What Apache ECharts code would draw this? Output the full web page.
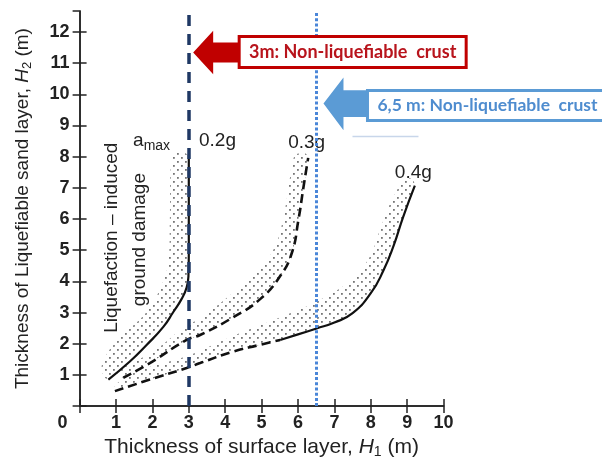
<!DOCTYPE html>
<html>
<head>
<meta charset="utf-8">
<script src="https://cdn.jsdelivr.net/npm/echarts@6/dist/echarts.min.js"></script>
<style>
  html, body { margin: 0; padding: 0; background: #fff; }
  #main { width: 602px; height: 464px; }
</style>
</head>
<body>
<div id="main"></div>
<script>
window.addEventListener('load', () => {
    main()
})

// curves, [H1, H2] in metres
const curve02g = [[0.79, 0.85], [1.38, 1.43], [1.84, 1.96], [2.30, 2.54], [2.57, 3.01], [2.80, 3.43], [2.94, 3.80], [2.99, 4.17], [3.0, 4.9], [3.0, 8.07]]
const band02g = [[0.6, 1.2], [0.79, 1.75], [1.2, 2.28], [1.84, 3.01], [2.21, 3.75], [2.44, 4.59], [2.48, 5.96], [2.53, 7.96], [2.75, 8.15], [3.0, 8.07]]

const curve03g = [[1.2, 0.91], [1.93, 1.38], [2.94, 2.12], [3.31, 2.28], [4.22, 2.85], [4.96, 3.43], [5.51, 4.17], [5.83, 4.91], [6.01, 5.96], [6.15, 7.02], [6.28, 7.96]]
const band03g = [[1.1, 1.15], [2.03, 1.75], [2.94, 2.59], [3.31, 2.8], [4.22, 3.64], [4.96, 4.38], [5.41, 5.22], [5.64, 6.28], [5.78, 7.33], [5.92, 8.05], [6.2, 8.1]]

const curve04gDashed = [[0.97, 0.48], [1.93, 0.85], [2.94, 1.22], [3.31, 1.38], [4.22, 1.75], [4.9, 1.95], [5.51, 2.12]]
const curve04gSolid = [[5.51, 2.12], [6.0, 2.3], [6.51, 2.49], [7.0, 2.68], [7.5, 2.98], [8.0, 3.62], [8.34, 4.33], [8.62, 5.12], [8.89, 6.07], [9.21, 7.07]]
const band04g = [[1.0, 0.7], [1.66, 1.15], [2.94, 1.6], [4.22, 2.25], [5.41, 2.8], [6.51, 3.35], [7.43, 4.0], [7.98, 4.8], [8.25, 5.65], [8.53, 6.49], [8.89, 7.23], [9.1, 7.3]]

const crustDepths = [3, 6.5]

const labelTexts = ['0.2g', '0.3g', '0.4g']
const labelAnchors = [[3.28, 8.5], [5.73, 8.44], [8.66, 7.49]]
const amaxAnchor = [1.47, 8.5]
const noteLines = ['Liquefaction \u2013 induced', 'ground damage']
const noteAnchors = [[0.89, 5.4], [1.66, 5.34]]

const calloutTexts = ['3m: Non-liquefiable  crust', '6,5 m: Non-liquefiable  crust']
const arrowTips = [[3.12, 11.34], [6.70, 9.70]]

const FONT = 'Liberation Sans'
const AXIS_COLOR = '#222'

let chartInstance
let stipple

function makeStipple() {
    const c = document.createElement('canvas')
    c.width = 8
    c.height = 8
    const ctx = c.getContext('2d')
    ctx.fillStyle = 'rgba(60,60,60,0.7)'
    ctx.fillRect(1, 1, 1.8, 1.8)
    ctx.fillRect(5, 5, 1.8, 1.8)
    return c
}

function bandPolygon(curve, outer) {
    return curve.concat(outer.slice().reverse())
}

function main() {
    stipple = makeStipple()
    chartInstance = echarts.init(document.getElementById('main'), null, { renderer: 'canvas' })

    const bands = [
        bandPolygon(curve02g, band02g),
        bandPolygon(curve03g, band03g),
        bandPolygon(curve04gDashed.concat(curve04gSolid.slice(1)), band04g),
    ]

    const axisLine = { lineStyle: { color: AXIS_COLOR, width: 1.5 } }
    const axisTick = { inside: true, length: 7, lineStyle: { color: AXIS_COLOR, width: 1.5 } }
    const tickLabel = { color: '#222', fontFamily: FONT, fontSize: 18, fontWeight: 'bold' }

    const option = {
        animation: false,
        grid: { left: 79.6, right: 158.4, top: 11, bottom: 52 },
        xAxis: [
            {
                type: 'value', min: 0, max: 10, interval: 1, position: 'bottom',
                axisLine, axisTick, splitLine: { show: false },
                axisLabel: {
                    ...tickLabel, margin: 8,
                    formatter: v => v === 0 ? '{z|0}' : String(v),
                    rich: { z: { ...tickLabel, padding: [0, 34, 0, 0] } }
                },
                name: 'Thickness of surface layer, {i|H}{sub|1} (m)',
                nameLocation: 'middle', nameGap: 27,
                nameTextStyle: {
                    color: '#222', fontFamily: FONT, fontSize: 21,
                    rich: {
                        i: { fontFamily: FONT, fontSize: 21, fontStyle: 'italic', color: '#222' },
                        sub: { fontFamily: FONT, fontSize: 14, color: '#222', padding: [9, 0, 0, 0] }
                    }
                }
            },
            {
                type: 'value', min: 0, max: 10, interval: 1, position: 'top',
                axisLine, axisTick, splitLine: { show: false }, axisLabel: { show: false }
            }
        ],
        yAxis: [
            {
                type: 'value', min: 0, max: 12.67, interval: 1, position: 'left',
                axisLine, axisTick, splitLine: { show: false },
                axisLabel: {
                    ...tickLabel, margin: 10, showMaxLabel: false,
                    formatter: v => (v === 0 || v % 1 !== 0) ? '' : String(v)
                },
                name: 'Thickness of Liquefiable sand layer, {i|H}{sub|2} (m)',
                nameLocation: 'middle', nameGap: 46,
                nameTextStyle: {
                    color: '#222', fontFamily: FONT, fontSize: 19,
                    rich: {
                        i: { fontFamily: FONT, fontSize: 19, fontStyle: 'italic', color: '#222' },
                        sub: { fontFamily: FONT, fontSize: 13, color: '#222', padding: [8, 0, 0, 0] }
                    }
                }
            },
            {
                type: 'value', min: 0, max: 12.67, interval: 1, position: 'right',
                axisLine, axisTick, splitLine: { show: false }, axisLabel: { show: false }
            }
        ],
        series: [
            {
                name: 'bands',
                type: 'custom',
                z: 1,
                silent: true,
                data: bands.map(b => b[0]),
                renderItem: (params, api) => {
                    const points = bands[params.dataIndex].map(p => api.coord(p))
                    return {
                        type: 'polygon',
                        shape: { points, smooth: 0.3 },
                        style: { fill: { image: stipple, repeat: 'repeat' }, stroke: null }
                    }
                }
            },
            {
                name: '0.2g', type: 'line', data: curve02g, symbol: 'none', smooth: 0.5, z: 3,
                lineStyle: { color: '#111', width: 2.2 }
            },
            {
                name: '0.3g', type: 'line', data: curve03g, symbol: 'none', smooth: 0.5, z: 3,
                lineStyle: { color: '#111', width: 2.6, type: [9, 5] }
            },
            {
                name: '0.4g', type: 'line', data: curve04gDashed, symbol: 'none', smooth: 0.5, z: 3,
                lineStyle: { color: '#111', width: 2.6, type: [9, 5] }
            },
            {
                name: '0.4g', type: 'line', data: curve04gSolid, symbol: 'none', smooth: 0.5, z: 3,
                lineStyle: { color: '#111', width: 2.2 }
            },
            {
                name: 'crust', type: 'line', data: [], z: 4,
                markLine: {
                    silent: true, symbol: 'none', label: { show: false },
                    data: [
                        { xAxis: crustDepths[0], lineStyle: { color: '#1f3864', width: 3.5, type: [11, 8] } },
                        { xAxis: crustDepths[1], lineStyle: { color: '#4a86d8', width: 3, type: [3, 2.2] } }
                    ]
                }
            }
        ]
    }
    chartInstance.setOption(option)
    chartInstance.setOption({ graphic: buildGraphic() })
}

function toPx(p) {
    return chartInstance.convertToPixel({ gridIndex: 0 }, p)
}

function buildGraphic() {
    const els = []

    // curve labels
    const a = toPx(amaxAnchor)
    els.push({
        type: 'text', x: a[0], y: a[1], z: 1,
        style: {
            text: '{a|a}{s|max}', textAlign: 'left', textVerticalAlign: 'middle',
            rich: {
                a: { fontFamily: FONT, fontSize: 19, fill: '#222' },
                s: { fontFamily: FONT, fontSize: 14, fill: '#222', padding: [10, 0, 0, 0] }
            }
        }
    })
    labelTexts.forEach((t, i) => {
        const p = toPx(labelAnchors[i])
        els.push({
            type: 'text', x: p[0], y: p[1], z: 1,
            style: { text: t, fontFamily: FONT, fontSize: 19, fill: '#222', textAlign: 'left', textVerticalAlign: 'middle' }
        })
    })
    noteLines.forEach((t, i) => {
        const p = toPx(noteAnchors[i])
        els.push({
            type: 'text', x: p[0], y: p[1], rotation: Math.PI / 2, z: 1,
            style: { text: t, fontFamily: FONT, fontSize: 19, fill: '#222', textAlign: 'center', textVerticalAlign: 'middle' }
        })
    })

    // red callout
    const r = toPx(arrowTips[0])
    els.push({
        type: 'polygon', z: 100,
        shape: {
            points: [
                [r[0], r[1]], [r[0] + 20, r[1] - 21.7], [r[0] + 20, r[1] - 10], [r[0] + 55, r[1] - 10],
                [r[0] + 55, r[1] + 10], [r[0] + 20, r[1] + 10], [r[0] + 20, r[1] + 21.7]
            ]
        },
        style: { fill: '#c00000' }
    })
    els.push({
        type: 'rect', z: 101,
        shape: { x: r[0] + 46, y: r[1] - 16, width: 227, height: 31 },
        style: { fill: '#fff', stroke: '#c00000', lineWidth: 3 }
    })
    els.push({
        type: 'text', z: 102, x: r[0] + 46 + 113.5, y: r[1] - 0.5,
        style: {
            text: calloutTexts[0], fontFamily: 'Lato', fontWeight: 'bold', fontSize: 18,
            fill: '#b8141c', textAlign: 'center', textVerticalAlign: 'middle'
        }
    })

    // blue callout
    const b = toPx(arrowTips[1])
    els.push({
        type: 'polygon', z: 100,
        shape: {
            points: [
                [b[0], b[1]], [b[0] + 20, b[1] - 26], [b[0] + 20, b[1] - 13.3], [b[0] + 50, b[1] - 13.3],
                [b[0] + 50, b[1] + 13.3], [b[0] + 20, b[1] + 13.3], [b[0] + 20, b[1] + 26.7]
            ]
        },
        style: { fill: '#5b9bd5' }
    })
    els.push({
        type: 'rect', z: 101,
        shape: { x: b[0] + 44, y: b[1] - 13, width: 240, height: 30 },
        style: { fill: '#fff', stroke: '#5b9bd5', lineWidth: 3 }
    })
    els.push({
        type: 'text', z: 102, x: b[0] + 164, y: b[1] + 1.5,
        style: {
            text: calloutTexts[1], fontFamily: 'Lato', fontWeight: 'bold', fontSize: 17.5,
            fill: '#4e8ccf', textAlign: 'center', textVerticalAlign: 'middle'
        }
    })
    els.push({
        type: 'line', z: 100,
        shape: { x1: b[0] + 29, y1: b[1] + 33, x2: b[0] + 95, y2: b[1] + 33 },
        style: { stroke: '#c8d6ea', lineWidth: 1.5 }
    })

    return els
}
</script>
</body>
</html>
